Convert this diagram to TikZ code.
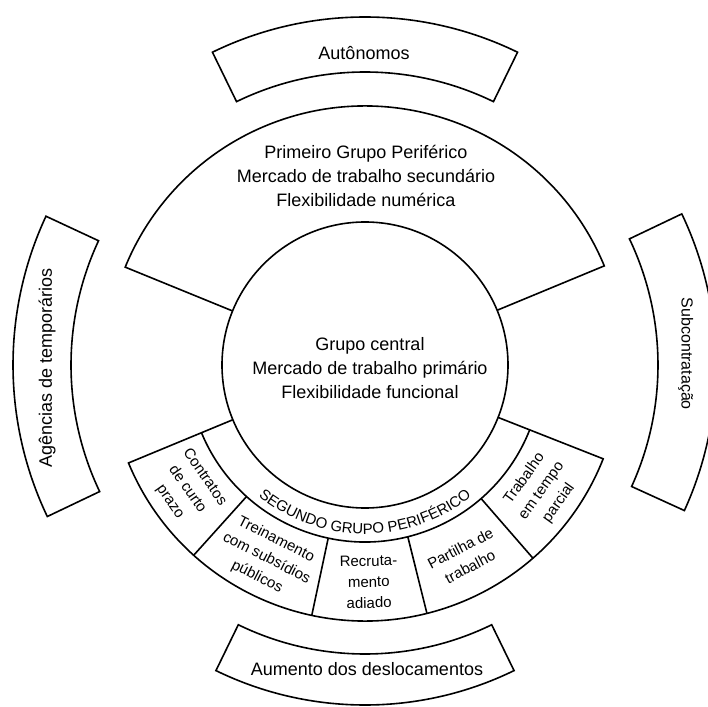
\documentclass[tikz,border=0pt]{standalone}
\usepackage{fontspec}
\setmainfont{Liberation Sans}
\usetikzlibrary{decorations.text}

\begin{document}
\begin{tikzpicture}[x=1pt,y=1pt,line width=1.6pt,
    bigtext/.style={align=center,inner sep=0pt,font=\fontsize{18}{24}\selectfont},
    celltext/.style={align=center,inner sep=0pt,font=\fontsize{15}{21}\selectfont}]
            % Parameters
            \def\rc{143}    % central group
            \def\rb{177}    % band of second group
            \def\rt{259}    % first peripheral group
            \def\rd{256}    % second peripheral group
            % Frame
            \useasboundingbox (-365,-341) rectangle (343,365);
            \clip (-365,-341) rectangle (343,365);
            % Central group
            \draw (0,0) circle[radius=\rc];
            % First peripheral group
            \draw (22.5:\rc) -- (22.5:\rt) arc[start angle=22.5, end angle=157.8, radius=\rt] -- (157.8:\rc);
            % Second peripheral group
            \draw (202.5:\rc) -- (202.5:\rd) arc[start angle=202.5, end angle=338.5, radius=\rd] -- (338.5:\rc);
            \draw (202.5:\rb) arc[start angle=202.5, end angle=338.5, radius=\rb];
            \foreach \a in {228,258,284,311}
                \draw (\a:\rb) -- (\a:\rd);
            % Outer ring
            \draw (64:293) arc[start angle=64, end angle=116, radius=293] -- (116:348) arc[start angle=116, end angle=64, radius=348] -- cycle;
            \draw (155:294) arc[start angle=155, end angle=205.5, radius=294] -- (205.5:352) arc[start angle=205.5, end angle=155, radius=352] -- cycle;
            \draw (244:289) arc[start angle=244, end angle=296, radius=289] -- (296:340) arc[start angle=296, end angle=244, radius=340] -- cycle;
            \draw (-24.5:293) arc[start angle=-24.5, end angle=25.5, radius=293] -- (25.5:351) arc[start angle=25.5, end angle=-24.5, radius=351] -- cycle;
            % Labels
            \node[bigtext] (autonomos) at (-1,312) {Autônomos};
            \node[bigtext] (primeiro) at (1,189) {Primeiro Grupo Periférico\\Mercado de trabalho secundário\\Flexibilidade numérica};
            \node[bigtext] (central) at (5,-3) {Grupo central\\Mercado de trabalho primário\\Flexibilidade funcional};
            \node[bigtext,rotate=90] (agencias) at (180.5:318) {Agências de temporários};
            \node[bigtext,rotate=-90,font=\fontsize{16}{20}\selectfont] (subcontr) at (2:321) {Subcontratação};
            \node[bigtext] (aumento) at (2,-304) {Aumento dos deslocamentos};
            % Second group
            \path[decorate,decoration={text along path,text align=center,
                text={|\fontsize{15}{18}\selectfont|SEGUNDO GRUPO PERIFÉRICO}}]
                (222:169) arc[start angle=222, end angle=318, radius=169];
            \node[celltext,rotate=-55] (contratos) at (215:217) {Contratos\\de curto\\prazo};
            \node[celltext,rotate=-27] (treinamento) at (243:217) {Treinamento\\com subsídios\\públicos};
            \node[celltext,rotate=1] (recrutamento) at (271:217) {Recruta-\\mento\\adiado};
            \node[celltext,rotate=27.5] (partilha) at (297.5:217) {Partilha de\\trabalho};
            \node[celltext,rotate=54.5] (tempoparcial) at (324.5:217) {Trabalho\\em tempo\\parcial};
        \end{tikzpicture}
\end{document}
